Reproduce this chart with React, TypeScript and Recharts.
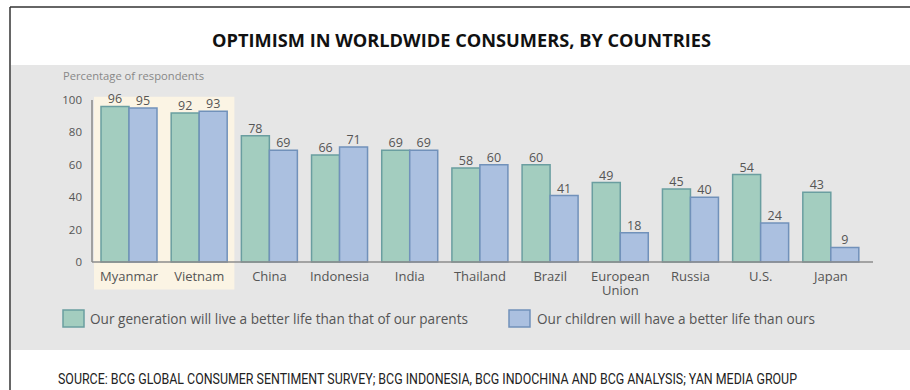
import React from "react";
import {
  BarChart,
  Bar,
  XAxis,
  YAxis,
  LabelList,
  Legend,
  ReferenceArea,
} from "recharts";

// valores (porcentaje de encuestados)
const countries = [
  "Myanmar",
  "Vietnam",
  "China",
  "Indonesia",
  "India",
  "Thailand",
  "Brazil",
  "European Union",
  "Russia",
  "U.S.",
  "Japan",
];
const ourGeneration = [96, 92, 78, 66, 69, 58, 60, 49, 45, 54, 43];
const ourChildren = [95, 93, 69, 71, 69, 60, 41, 18, 40, 24, 9];
const highlighted = ["Myanmar", "Vietnam"];
const yTicks = [0, 20, 40, 60, 80, 100];

const seriesKeys = ["gen", "kids"];
const seriesNames = [
  "Our generation will live a better life than that of our parents",
  "Our children will have a better life than ours",
];

const TITLE = "OPTIMISM IN WORLDWIDE CONSUMERS, BY COUNTRIES";
const SOURCE =
  "SOURCE: BCG GLOBAL CONSUMER SENTIMENT SURVEY; BCG INDONESIA, BCG INDOCHINA AND BCG ANALYSIS; YAN MEDIA GROUP";

const GREEN = "#a3cdbf";
const GREEN_EDGE = "#6a9ea0";
const BLUE = "#abc0e0";
const BLUE_EDGE = "#7191ba";
const FONT = "'Open Sans', sans-serif";

const data = countries.map((name, i) => ({
  name,
  gen: ourGeneration[i],
  kids: ourChildren[i],
}));

const CountryTick = (props: any) => {
  const { x, y, payload } = props;
  const value = String(payload.value);
  const lines = value.length > 10 ? value.split(" ") : [value];
  return (
    <text x={x} y={y} textAnchor="middle" fill="#555" fontSize={13} fontFamily={FONT}>
      {lines.map((l, i) => (
        <tspan key={i} x={x} dy={i === 0 ? 11 : 14}>
          {l}
        </tspan>
      ))}
    </text>
  );
};

const legendSpots = [
  { box: 63, text: 90, len: 378 },
  { box: 509, text: 537, len: 278 },
];
const edges = [GREEN_EDGE, BLUE_EDGE];

const LegendRow = (props: any) => {
  const items = props.payload || [];
  return (
    <svg width={910} height={36}>
      {items.map((item: any) => {
        const i = Math.max(0, seriesKeys.indexOf(item.dataKey));
        return (
          <g key={item.dataKey}>
            <rect
              x={legendSpots[i].box}
              y={10}
              width={21}
              height={17}
              fill={item.color}
              stroke={edges[i]}
              strokeWidth={1.5}
            />
            <text
              x={legendSpots[i].text}
              y={24}
              fontSize={14}
              fill="#555"
              fontFamily={FONT}
              textLength={legendSpots[i].len}
              lengthAdjust="spacingAndGlyphs"
            >
              {item.value}
            </text>
          </g>
        );
      })}
    </svg>
  );
};

export default function App() {
  return (
    <div style={{ position: "absolute", left: 0, top: 0, width: 910, height: 390, background: "#fff" }}>
      <svg width={910} height={390} style={{ position: "absolute", left: 0, top: 0 }}>
        <rect x={11} y={65} width={899} height={285} fill="#e6e6e6" />
        <line x1={10} y1={7} x2={910} y2={7} stroke="#333" strokeWidth={1.5} />
        <line x1={10} y1={7} x2={10} y2={390} stroke="#333" strokeWidth={1.5} />
        <text
          x={212}
          y={47}
          fontSize={17}
          fontWeight={700}
          fill="#111"
          fontFamily={FONT}
          textLength={499}
          lengthAdjust="spacingAndGlyphs"
        >
          {TITLE}
        </text>
        <text
          x={63}
          y={80}
          fontSize={10.5}
          fill="#888"
          fontFamily={FONT}
          textLength={141}
          lengthAdjust="spacingAndGlyphs"
        >
          Percentage of respondents
        </text>
        <text
          x={58}
          y={384}
          fontSize={14}
          fill="#222"
          fontFamily="'Liberation Sans Narrow', Roboto, sans-serif"
          textLength={739}
          lengthAdjust="spacingAndGlyphs"
        >
          {SOURCE}
        </text>
      </svg>
      <div style={{ position: "absolute", left: 0, top: 0 }}>
        <BarChart
          width={910}
          height={390}
          data={data}
          margin={{ top: 100, right: 37, bottom: 98, left: 52 }}
          barGap={0}
          barSize={28}
        >
          <ReferenceArea
            x1={highlighted[0]}
            x2={highlighted[highlighted.length - 1]}
            y1={-17}
            y2={102}
            ifOverflow="visible"
            fill="#fbf4e4"
            fillOpacity={1}
            stroke="none"
          />
          <XAxis
            dataKey="name"
            height={30}
            padding={{ left: 2, right: 7 }}
            axisLine={{ stroke: "#8c8c8c", strokeWidth: 1.5 }}
            tickLine={false}
            tickSize={0}
            tickMargin={8}
            interval={0}
            tick={<CountryTick />}
          />
          <YAxis
            width={40}
            domain={[0, 100]}
            ticks={yTicks}
            axisLine={{ stroke: "#888", strokeWidth: 1.5 }}
            tickLine={false}
            tickSize={0}
            tickMargin={10}
            tick={{ fontSize: 11.5, fill: "#555", fontFamily: FONT }}
          />
          <Legend
            layout="horizontal"
            align="center"
            verticalAlign="middle"
            wrapperStyle={{ left: 0, top: 300, width: 910, height: 36 }}
            content={<LegendRow />}
          />
          <Bar
            dataKey="gen"
            name={seriesNames[0]}
            fill={GREEN}
            stroke={GREEN_EDGE}
            strokeWidth={1.5}
            isAnimationActive={false}
          >
            <LabelList dataKey="gen" position="top" offset={3} fill="#555" fontSize={12.5} fontFamily={FONT} />
          </Bar>
          <Bar
            dataKey="kids"
            name={seriesNames[1]}
            fill={BLUE}
            stroke={BLUE_EDGE}
            strokeWidth={1.5}
            isAnimationActive={false}
          >
            <LabelList dataKey="kids" position="top" offset={3} fill="#555" fontSize={12.5} fontFamily={FONT} />
          </Bar>
        </BarChart>
      </div>
    </div>
  );
}
